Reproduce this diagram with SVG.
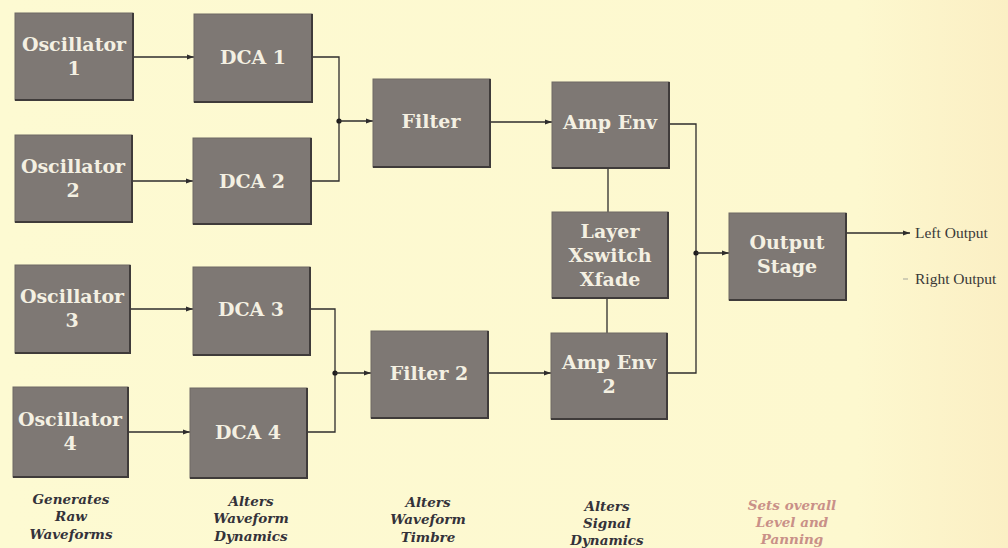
<svg xmlns="http://www.w3.org/2000/svg" width="1008" height="548" viewBox="0 0 1008 548">
<defs>
<marker id="ah" viewBox="0 0 10 10" refX="10" refY="5" markerWidth="7" markerHeight="7" markerUnits="userSpaceOnUse" orient="auto">
<path d="M0,1.5 L10,5 L0,8.5 z" fill="#2e2c2c"/>
</marker>
<linearGradient id="bg" x1="0" y1="0" x2="1" y2="0">
<stop offset="0" stop-color="#fdfad2"/>
<stop offset="0.85" stop-color="#fdf8cf"/>
<stop offset="1" stop-color="#fbefc4"/>
</linearGradient>
</defs>
<style>
.box{fill:#7e7874;stroke:#6e6864;stroke-width:1}
.edge{fill:none;stroke:#3f3b3a;stroke-width:2}
.bt{font-family:"DejaVu Serif","Liberation Serif",serif;font-weight:bold;font-size:19px;fill:#f4f0e2;text-anchor:middle}
.cap{font-family:"DejaVu Serif","Liberation Serif",serif;font-weight:bold;font-style:italic;font-size:13.5px;fill:#34323a;text-anchor:middle}
.cap2{font-family:"DejaVu Serif","Liberation Serif",serif;font-weight:bold;font-style:italic;font-size:13.5px;fill:#c99088;text-anchor:middle}
.out{font-family:"Liberation Serif","DejaVu Serif",serif;font-size:15.5px;fill:#3a3838}
.ln{fill:none;stroke:#2e2c2c;stroke-width:1.3}
.dot{fill:#1e1c1c}
</style>
<rect x="0" y="0" width="1008" height="548" fill="url(#bg)"/>

<g id="connectors">
<line class="ln" x1="133" y1="57" x2="194" y2="57" marker-end="url(#ah)"/>
<line class="ln" x1="132" y1="181" x2="193" y2="181" marker-end="url(#ah)"/>
<line class="ln" x1="130" y1="309" x2="193" y2="309" marker-end="url(#ah)"/>
<line class="ln" x1="128" y1="432" x2="190" y2="432" marker-end="url(#ah)"/>
<polyline class="ln" points="312,57 339,57 339,181 311,181"/>
<circle class="dot" cx="339" cy="121" r="2.6"/>
<line class="ln" x1="339" y1="121" x2="373" y2="121" marker-end="url(#ah)"/>
<polyline class="ln" points="310,309 335,309 335,432 307,432"/>
<circle class="dot" cx="335" cy="373" r="2.6"/>
<line class="ln" x1="335" y1="373" x2="371" y2="373" marker-end="url(#ah)"/>
<line class="ln" x1="490" y1="122" x2="552" y2="122" marker-end="url(#ah)"/>
<line class="ln" x1="488" y1="373" x2="551" y2="373" marker-end="url(#ah)"/>
<polyline class="ln" points="669,124 696,124 696,373 667,373"/>
<circle class="dot" cx="696" cy="253" r="2.6"/>
<line class="ln" x1="696" y1="253" x2="729" y2="253" marker-end="url(#ah)"/>
<line class="ln" x1="608" y1="168" x2="608" y2="212"/>
<line class="ln" x1="607" y1="298" x2="607" y2="333"/>
<line class="ln" x1="846" y1="233" x2="910" y2="233" marker-end="url(#ah)"/>
<line x1="903" y1="279" x2="908" y2="279" stroke="#b8b6a8" stroke-width="1.3"/>
</g>

<g id="osc1"><rect class="box" x="15" y="13" width="118" height="87"/><polyline class="edge" points="15,100 133,100 133,13"/><text class="bt" x="74" y="51">Oscillator</text><text class="bt" x="74" y="75">1</text></g>
<g id="osc2"><rect class="box" x="15" y="135" width="117" height="87"/><polyline class="edge" points="15,222 132,222 132,135"/><text class="bt" x="73" y="173">Oscillator</text><text class="bt" x="73" y="197">2</text></g>
<g id="osc3"><rect class="box" x="15" y="265" width="115" height="88"/><polyline class="edge" points="15,353 130,353 130,265"/><text class="bt" x="72" y="303">Oscillator</text><text class="bt" x="72" y="327">3</text></g>
<g id="osc4"><rect class="box" x="13" y="387" width="115" height="90"/><polyline class="edge" points="13,477 128,477 128,387"/><text class="bt" x="70" y="426">Oscillator</text><text class="bt" x="70" y="450">4</text></g>

<g id="dca1"><rect class="box" x="194" y="14" width="118" height="88"/><polyline class="edge" points="194,102 312,102 312,14"/><text class="bt" x="253" y="64">DCA 1</text></g>
<g id="dca2"><rect class="box" x="193" y="138" width="118" height="86"/><polyline class="edge" points="193,224 311,224 311,138"/><text class="bt" x="252" y="188">DCA 2</text></g>
<g id="dca3"><rect class="box" x="193" y="267" width="117" height="88"/><polyline class="edge" points="193,355 310,355 310,267"/><text class="bt" x="251" y="316">DCA 3</text></g>
<g id="dca4"><rect class="box" x="190" y="388" width="117" height="90"/><polyline class="edge" points="190,478 307,478 307,388"/><text class="bt" x="248" y="439">DCA 4</text></g>

<g id="filter1"><rect class="box" x="373" y="79" width="117" height="88"/><polyline class="edge" points="373,167 490,167 490,79"/><text class="bt" x="431" y="128">Filter</text></g>
<g id="filter2"><rect class="box" x="371" y="331" width="117" height="87"/><polyline class="edge" points="371,418 488,418 488,331"/><text class="bt" x="429" y="380">Filter 2</text></g>

<g id="ampenv1"><rect class="box" x="552" y="82" width="117" height="86"/><polyline class="edge" points="552,168 669,168 669,82"/><text class="bt" x="610" y="129">Amp Env</text></g>
<g id="layer"><rect class="box" x="552" y="212" width="116" height="86"/><polyline class="edge" points="552,298 668,298 668,212"/><text class="bt" x="610" y="238">Layer</text><text class="bt" x="610" y="262">Xswitch</text><text class="bt" x="610" y="286">Xfade</text></g>
<g id="ampenv2"><rect class="box" x="551" y="333" width="116" height="86"/><polyline class="edge" points="551,419 667,419 667,333"/><text class="bt" x="609" y="369">Amp Env</text><text class="bt" x="609" y="393">2</text></g>

<g id="output"><rect class="box" x="729" y="213" width="117" height="87"/><polyline class="edge" points="729,300 846,300 846,213"/><text class="bt" x="787" y="249">Output</text><text class="bt" x="787" y="273">Stage</text></g>

<g id="outlabels">
<text class="out" x="915" y="238">Left Output</text>
<text class="out" x="915" y="284">Right Output</text>
</g>

<g id="captions">
<text class="cap" x="71" y="504">Generates</text><text class="cap" x="71" y="521">Raw</text><text class="cap" x="71" y="539">Waveforms</text>
<text class="cap" x="251" y="506">Alters</text><text class="cap" x="251" y="523">Waveform</text><text class="cap" x="251" y="541">Dynamics</text>
<text class="cap" x="428" y="507">Alters</text><text class="cap" x="428" y="524">Waveform</text><text class="cap" x="428" y="542">Timbre</text>
<text class="cap" x="607" y="511">Alters</text><text class="cap" x="607" y="528">Signal</text><text class="cap" x="607" y="545">Dynamics</text>
<text class="cap2" x="792" y="510">Sets overall</text><text class="cap2" x="792" y="527">Level and</text><text class="cap2" x="792" y="544">Panning</text>
</g>
</svg>
